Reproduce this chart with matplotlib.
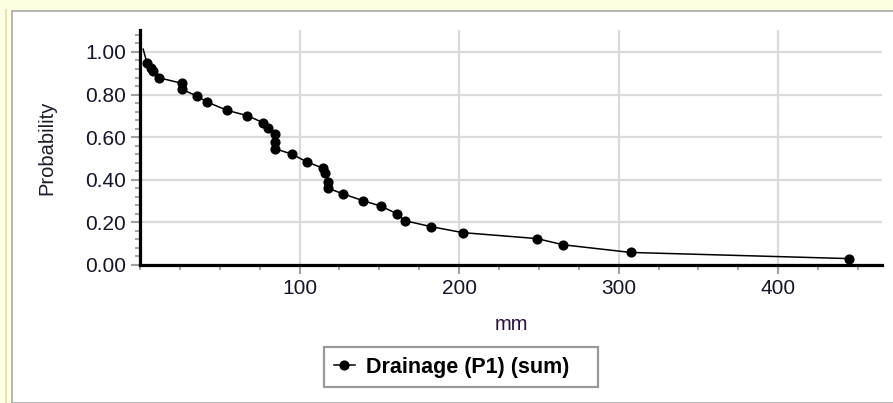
import matplotlib.pyplot as plt
from matplotlib.patches import Rectangle
from matplotlib.lines import Line2D
from matplotlib.ticker import MultipleLocator, FixedLocator

# values (mm, exceedance probability)
drainage_mm = [2, 4.4, 6.9, 8.1, 11.7, 26.1, 26.1, 35.7, 42.0, 54.6, 67.2, 77.2,
               80.3, 84.5, 84.5, 84.5, 95.0, 104.6, 114.8, 116.0, 117.8, 118.0,
               127.5, 139.8, 151.1, 160.9, 166.0, 182.4, 202.2, 248.8, 265.1,
               307.4, 444.6]
probability = [1.013, 0.947, 0.923, 0.91, 0.879, 0.853, 0.825, 0.793, 0.765, 0.726,
               0.701, 0.668, 0.642, 0.614, 0.579, 0.546, 0.521, 0.484, 0.454, 0.43,
               0.391, 0.36, 0.333, 0.302, 0.276, 0.241, 0.208, 0.18, 0.152, 0.124,
               0.095, 0.059, 0.03]

y_ticks = [0.0, 0.2, 0.4, 0.6, 0.8, 1.0]
x_ticks = [100, 200, 300, 400]
series_name = "Drainage (P1) (sum)"

plt.rcParams['font.family'] = ['Liberation Sans', 'DejaVu Sans']
W, H = 893, 403
fig = plt.figure(figsize=(W / 100, H / 100), dpi=100, facecolor='#FFFFE1')

# white panel and its frame (behind the axes)
fig.add_artist(Rectangle((12 / W, 0), 1, (H - 11) / H, transform=fig.transFigure,
                         facecolor='white', edgecolor='#A8A8A8', linewidth=1.2,
                         zorder=-2))
fig.add_artist(Line2D([5.5 / W, 5.5 / W], [0, (H - 10) / H], transform=fig.transFigure,
                      color='#E4DDB0', linewidth=1.2, zorder=-2))

ax = fig.add_axes([140 / W, (H - 265) / H, (882 - 140) / W, (265 - 30) / H])
ax.set_facecolor('white')
ax.plot(drainage_mm, probability, color='black', linewidth=1.1, marker='o',
        markersize=6.3, markevery=list(range(1, len(drainage_mm))), label=series_name,
        zorder=3)

ax.set_xlim(0, 465)
ax.set_ylim(0, 1.103)
ax.xaxis.set_major_locator(FixedLocator(x_ticks))
ax.xaxis.set_minor_locator(MultipleLocator(25))
ax.yaxis.set_major_locator(FixedLocator(y_ticks))
ax.yaxis.set_minor_locator(MultipleLocator(0.04))
ax.set_yticklabels(['%.2f' % v for v in y_ticks])

for s in ['top', 'right']:
    ax.spines[s].set_visible(False)
for s in ['left', 'bottom']:
    ax.spines[s].set_linewidth(2.3)
    ax.spines[s].set_color('black')

ax.grid(True, which='major', color='#DADADA', linewidth=1.6, zorder=0)
ax.set_axisbelow(True)
lab_color = '#14142a'
ax.tick_params(which='major', length=6.5, width=1.5, color='#A0A0A0', labelsize=15,
               labelcolor=lab_color, pad=3.5)
ax.tick_params(which='minor', length=3.5, width=1.5, color='#A8A8A8')

ax.set_xlabel('mm', fontsize=14.5, color='#2a1040', labelpad=12)
ax.set_ylabel('Probability', fontsize=14.5, color='#1c1c2c', labelpad=21)

# legend box spans x 324..598 px, centred at y 367 px
leg = fig.legend(loc='center', mode='expand',
                 bbox_to_anchor=(324 / W, (H - 387) / H, 274 / W, 40 / H), frameon=True,
                 fancybox=False, prop={'weight': 'bold', 'size': 15.5},
                 handlelength=1.0, borderpad=0.45, handletextpad=0.5, borderaxespad=0)
leg.get_frame().set_edgecolor('#808080')
leg.get_frame().set_linewidth(1.6)

fig.savefig('out.png', dpi=100, facecolor=fig.get_facecolor())
